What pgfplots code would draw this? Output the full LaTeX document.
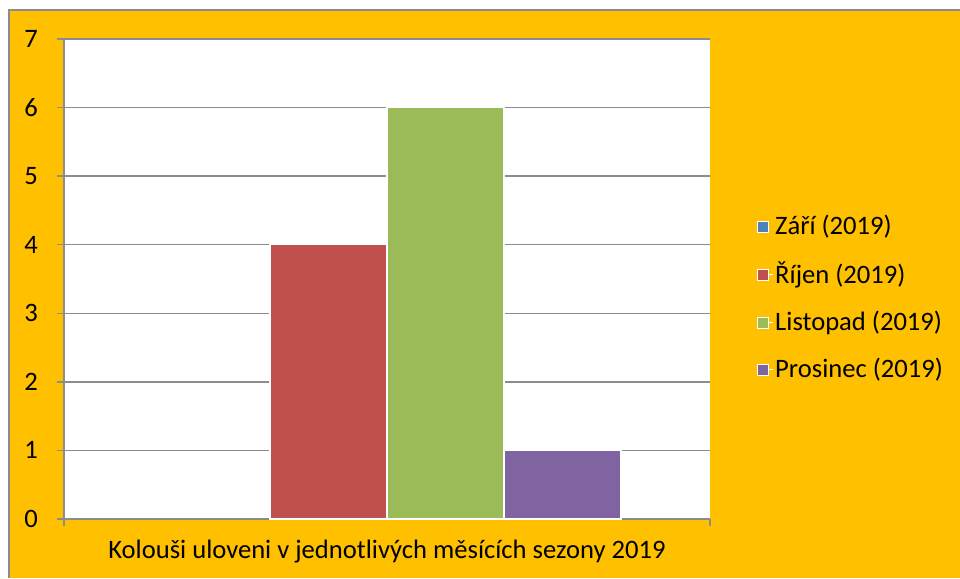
\documentclass[border=0pt]{standalone}
\usepackage{fontspec}
\setmainfont{Carlito}
\usepackage{pgfplots}
\pgfplotsset{compat=1.18}
\definecolor{bgorange}{HTML}{FFC000}
\definecolor{gridgray}{HTML}{8C8C8C}
\definecolor{sblue}{HTML}{4F81BD}
\definecolor{sred}{HTML}{C0504D}
\definecolor{sgreen}{HTML}{9BBB59}
\definecolor{spurple}{HTML}{8064A2}
\newcommand{\cf}{\fontsize{26.6}{31}\selectfont}
\pgfplotsset{
  sq/.style={legend image code/.code={\path[fill=#1, draw=white, line width=0.8pt] (0pt,-5.5pt) rectangle (11pt,5.5pt); \path (11pt,0pt) -- (15pt,0pt);}},
}
\begin{document}
\cf
\begin{tikzpicture}[x=1pt,y=1pt]
\useasboundingbox (0,0) rectangle (960,578);
\fill[white] (0,0) rectangle (960,578);
\fill[bgorange] (9,0) rectangle (960,568);
\draw[gridgray, line width=1.5pt] (9,0) -- (9,568) -- (960,568);
\begin{axis}[
  at={(64pt,59pt)}, anchor=south west,
  scale only axis, width=646pt, height=480pt,
  xmin=-0.5, xmax=0.5, ymin=0, ymax=7,
  axis x line*=bottom, axis y line*=left,
  axis line style={gridgray, line width=1.5pt, -},
  axis background/.style={fill=white},
  ytick={0,1,...,7}, xtick={-0.5,0.5}, xticklabels={},
  tick align=outside, major tick length=7pt,
  tick style={gridgray, line width=1.5pt},
  ymajorgrids, grid style={gridgray, line width=1.5pt},
  /pgf/number format/assume math mode=true,
  yticklabel style={font=\cf, anchor=east, inner sep=0pt, xshift=-19pt},
  xlabel={Kolouši uloveni v jednotlivých měsících sezony 2019},
  xlabel style={font=\cf, at={(axis description cs:0.5,0)}, anchor=center, yshift=-33pt},
  ybar, bar shift=0pt, bar width=117pt,
  legend style={font=\cf, draw=none, fill=bgorange, at={(1.0728,0.4604)}, anchor=west,
    row sep=19.4pt, inner sep=0pt, nodes={inner sep=2pt}},
  legend cell align=left,
]
\addplot[fill=sblue, draw=none, sq=sblue] coordinates {(-0.2717,0)};
\addlegendentry{Září (2019)}
\addplot[fill=sred, draw=white, line width=1.2pt, sq=sred] coordinates {(-0.0906,4)};
\addlegendentry{Říjen (2019)}
\addplot[fill=sgreen, draw=white, line width=1.2pt, sq=sgreen] coordinates {(0.0906,6)};
\addlegendentry{Listopad (2019)}
\addplot[fill=spurple, draw=white, line width=1.2pt, sq=spurple] coordinates {(0.2717,1)};
\addlegendentry{Prosinec (2019)}
\end{axis}
\end{tikzpicture}
\end{document}
